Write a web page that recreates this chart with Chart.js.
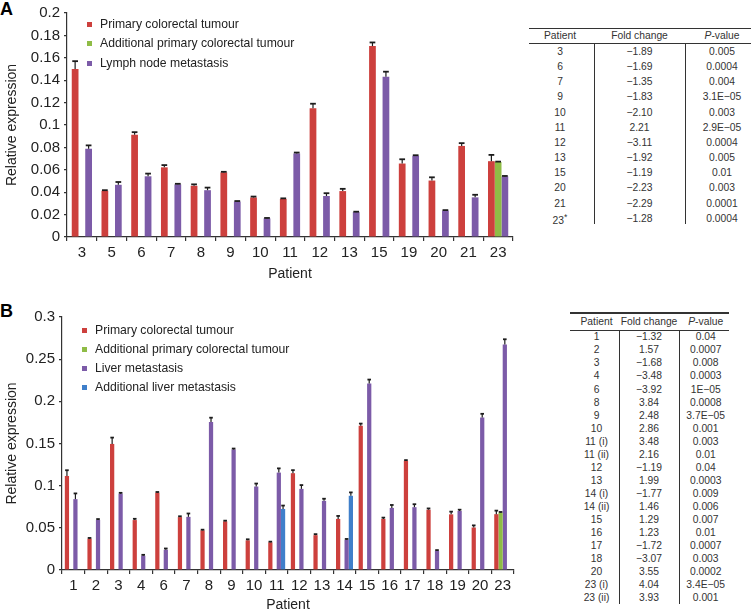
<!DOCTYPE html>
<html><head><meta charset="utf-8">
<script src="https://cdn.jsdelivr.net/npm/chart.js@4.4.0/dist/chart.umd.min.js"></script>
<style>
html,body{margin:0;padding:0;background:#fff;width:751px;height:614px;overflow:hidden;position:relative;font-family:'Liberation Sans',Arial,sans-serif;color:#222}
canvas{position:absolute;left:0}
.panel{position:absolute;font-weight:bold;font-size:18px;color:#000;line-height:18px}
.leg{position:absolute;font-size:12.2px;color:#222;white-space:nowrap}
.leg .it{position:absolute;left:0;height:19px;line-height:19px;width:300px}
.leg .sw{position:absolute;width:5px;height:5px;top:7px;left:0}
.leg .tx{position:absolute;left:13px;top:0}
.tcell{position:absolute;transform:translate(-50%,-50%);font-size:10.3px;white-space:nowrap;color:#333;line-height:12px}
.hl{position:absolute;background:#333}
</style></head><body>
<div class="panel" style="left:0;top:0">A</div>
<div class="panel" style="left:0;top:302px">B</div>
<canvas id="cA" width="520" height="283" style="top:0"></canvas>
<canvas id="cB" width="520" height="324" style="top:290px"></canvas>
<div id="legA" class="leg"></div>
<div id="legB" class="leg"></div>
<div id="tabA"></div>
<div id="tabB"></div>
<script>
// ---------- Data: panel A ----------
const categoriesA = ['3','5','6','7','8','9','10','11','12','13','15','19','20','21','23'];
const primaryA     = [0.150,0.0413,0.0913,0.0622,0.0457,0.0577,0.0353,0.0340,0.1150,0.0410,0.1705,0.0656,0.0504,0.0813,0.0677];
const primaryErrA  = [0.0070,0.0005,0.0023,0.0020,0.0013,0.0005,0.0008,0.0005,0.0040,0.0020,0.0032,0.0038,0.0029,0.0025,0.0056];
const additionalA  = [null,null,null,null,null,null,null,null,null,null,null,null,null,null,0.0670];
const additionalErrA=[null,null,null,null,null,null,null,null,null,null,null,null,null,null,0.0003];
const lymphA       = [0.0788,0.0466,0.0542,0.0470,0.0418,0.0316,0.0166,0.0746,0.0366,0.0222,0.1431,0.0725,0.0235,0.0354,0.0541];
const lymphErrA    = [0.0030,0.0025,0.0024,0.0005,0.0023,0.0005,0.0004,0.0008,0.0025,0.0004,0.0045,0.0005,0.0005,0.0023,0.0004];
const yTicksA = {min:0, max:0.2, step:0.02};

// ---------- Data: panel B ----------
const categoriesB = ['1','2','3','4','6','7','8','9','10','11','12','13','14','15','16','17','18','19','20','23'];
const primaryB     = [0.1115,0.0372,0.1495,0.0592,0.0917,0.0627,0.0470,0.0577,0.0352,0.0328,0.1148,0.0413,0.0606,0.1709,0.0606,0.1295,0.0715,0.0660,0.0504,0.0662];
const primaryErrB  = [0.0068,0.0008,0.0075,0.0015,0.0008,0.0010,0.0008,0.0008,0.0012,0.0008,0.0036,0.0012,0.0035,0.0027,0.0015,0.0008,0.0015,0.0032,0.0025,0.0042];
const additionalB  = [null,null,null,null,null,null,null,null,null,null,null,null,null,null,null,null,null,null,null,0.0680];
const additionalErrB=[null,null,null,null,null,null,null,null,null,null,null,null,null,null,null,null,null,null,null,0.0008];
const liverB       = [0.0840,0.0594,0.0905,0.0170,0.0240,0.0630,0.1756,0.1430,0.0990,0.1155,0.0962,0.0820,0.0358,0.2210,0.0736,0.0745,0.0228,0.0700,0.1807,0.2673];
const liverErrB    = [0.0068,0.0010,0.0010,0.0010,0.0015,0.0040,0.0050,0.0010,0.0035,0.0050,0.0045,0.0025,0.0010,0.0048,0.0035,0.0035,0.0008,0.0015,0.0045,0.0063];
const addLiverB    = [null,null,null,null,null,null,null,null,null,0.0724,null,null,0.0880,null,null,null,null,null,null,null];
const addLiverErrB = [null,null,null,null,null,null,null,null,null,0.0040,null,null,0.0040,null,null,null,null,null,null,null];
const yTicksB = {min:0, max:0.3, step:0.05};

// ---------- Data: tables ----------
const tablePatientsA = ['3','6','7','9','10','11','12','13','15','20','21','23<sup>*</sup>'];
const tableFoldA     = ['−1.89','−1.69','−1.35','−1.83','−2.10','2.21','−3.11','−1.92','−1.19','−2.23','−2.29','−1.28'];
const tablePA        = ['0.005','0.0004','0.004','3.1E−05','0.003','2.9E−05','0.0004','0.005','0.01','0.003','0.0001','0.0004'];
const tablePatientsB = ['1','2','3','4','6','8','9','10','11 (i)','11 (ii)','12','13','14 (i)','14 (ii)','15','16','17','18','20','23 (i)','23 (ii)'];
const tableFoldB     = ['−1.32','1.57','−1.68','−3.48','−3.92','3.84','2.48','2.86','3.48','2.16','−1.19','1.99','−1.77','1.46','1.29','1.23','−1.72','−3.07','3.55','4.04','3.93'];
const tablePB        = ['0.04','0.0007','0.008','0.0003','1E−05','0.0008','3.7E−05','0.001','0.003','0.01','0.04','0.0003','0.009','0.006','0.007','0.01','0.0007','0.003','0.0002','3.4E−05','0.001'];
const tableHeaders   = ['Patient','Fold change','<i>P</i>-value'];

// ---------- Styling ----------
const RED='#cd403d', GREEN='#8fbc46', PURPLE='#7c5ba8', BLUE='#3f7fca';
const FONT="'Liberation Sans', Arial, sans-serif";

const errorBarPlugin = {
  id:'errbars',
  afterDatasetsDraw(chart){
    const ctx = chart.ctx, ys = chart.scales.y;
    chart.data.datasets.forEach((ds,i)=>{
      const meta = chart.getDatasetMeta(i);
      meta.data.forEach((el,j)=>{
        const v = ds.data[j], e = ds.errors ? ds.errors[j] : null;
        if (v==null || e==null) return;
        const yt = ys.getPixelForValue(v+e);
        const w = el.width*0.85;
        ctx.save();
        ctx.strokeStyle='#1c1c1c';
        ctx.lineWidth=1.2;
        ctx.beginPath();
        ctx.moveTo(el.x, el.y); ctx.lineTo(el.x, yt);
        ctx.stroke();
        ctx.lineWidth=1.8;
        ctx.beginPath();
        ctx.moveTo(el.x-w/2, yt); ctx.lineTo(el.x+w/2, yt);
        ctx.stroke();
        ctx.restore();
      });
    });
  }
};

function fmt(v){ return String(Number(v.toFixed(3))); }

function makeChart(id, labels, datasets, yt, geo){
  return new Chart(document.getElementById(id), {
    type:'bar',
    data:{labels, datasets},
    plugins:[errorBarPlugin],
    options:{
      responsive:false, animation:false, devicePixelRatio:1,
      layout:{padding:{left:0,right:geo.right,top:geo.top,bottom:0}},
      plugins:{legend:{display:false}, tooltip:{enabled:false}},
      datasets:{bar:{categoryPercentage:geo.cp, barPercentage:1, borderWidth:0}},
      scales:{
        x:{
          grid:{display:true, drawOnChartArea:false, drawTicks:true, tickLength:4, color:'#333', lineWidth:1.2, offset:true},
          border:{display:true, color:'#333', width:1.2},
          ticks:{font:{size:15,family:FONT}, color:'#222', padding:geo.xpad, maxRotation:0, autoSkip:false},
          title:{display:true, text:'Patient', font:{size:14,family:FONT}, color:'#222', padding:{top:geo.tpad,bottom:0}},
          afterFit(s){ s.height = geo.xh; }
        },
        y:{
          min:yt.min, max:yt.max,
          grid:{display:true, drawOnChartArea:false, drawTicks:true, tickLength:3, color:'#333', lineWidth:1.2},
          border:{display:true, color:'#333', width:1.2},
          ticks:{stepSize:yt.step, font:{size:15,family:FONT}, color:'#222', padding:4, callback:v=>fmt(v)},
          title:{display:true, text:'Relative expression', font:{size:14,family:FONT}, color:'#222', padding:{top:4,bottom:0}},
          afterFit(s){ s.width = geo.yw; }
        }
      }
    }
  });
}

const chartA = makeChart('cA', categoriesA, [
  {label:'Primary colorectal tumour', data:primaryA, errors:primaryErrA, backgroundColor:RED},
  {label:'Additional primary colorectal tumour', data:additionalA, errors:additionalErrA, backgroundColor:GREEN},
  {label:'Lymph node metastasis', data:lymphA, errors:lymphErrA, backgroundColor:PURPLE}
], yTicksA, {right:7, top:10, yw:67, xh:46, cp:0.68, xpad:3, tpad:2});

const chartB = makeChart('cB', categoriesB, [
  {label:'Primary colorectal tumour', data:primaryB, errors:primaryErrB, backgroundColor:RED},
  {label:'Additional primary colorectal tumour', data:additionalB, errors:additionalErrB, backgroundColor:GREEN},
  {label:'Liver metastasis', data:liverB, errors:liverErrB, backgroundColor:PURPLE},
  {label:'Additional liver metastasis', data:addLiverB, errors:addLiverErrB, backgroundColor:BLUE}
], yTicksB, {right:6, top:27, yw:62, xh:44, cp:0.75, xpad:3, tpad:0});

// ---------- HTML legends built from the chart datasets ----------
function buildLegend(el, chart, left, top, step){
  el.style.left = left+'px'; el.style.top = top+'px';
  chart.data.datasets.forEach((ds,i)=>{
    const it = document.createElement('div'); it.className='it'; it.style.top=(i*step)+'px';
    const sw = document.createElement('div'); sw.className='sw'; sw.style.background=ds.backgroundColor;
    const tx = document.createElement('span'); tx.className='tx'; tx.textContent=ds.label;
    it.appendChild(sw); it.appendChild(tx); el.appendChild(it);
  });
}
buildLegend(document.getElementById('legA'), chartA, 87, 14.5, 19.5);
buildLegend(document.getElementById('legB'), chartB, 82, 320.5, 19.3);

// ---------- Tables ----------
function buildTable(el, g, cols){
  const add=(cls,style,html)=>{const d=document.createElement('div');d.className=cls;Object.assign(d.style,style);if(html!=null)d.innerHTML=html;el.appendChild(d);};
  const n = cols[0].length;
  add('hl',{left:g.x0+'px',top:g.top+'px',width:(g.xr-g.x0)+'px',height:'1.6px'});
  add('hl',{left:g.x0+'px',top:g.hr+'px',width:(g.xr-g.x0)+'px',height:'1.4px'});
  g.vl.forEach(x=>add('hl',{left:x+'px',top:g.hr+'px',width:'1.1px',height:(g.vend-g.hr)+'px'}));
  tableHeaders.forEach((h,c)=>add('tcell',{left:g.cx[c]+'px',top:g.hy+'px',fontSize:g.fs+'px'},h));
  for(let r=0;r<n;r++){
    cols.forEach((col,c)=>add('tcell',{left:g.cx[c]+'px',top:(g.r0+r*g.rh)+'px',fontSize:g.fs+'px'},col[r]));
  }
}
buildTable(document.getElementById('tabA'),
  {x0:529,xr:751,top:27.5,hr:42.5,hy:36,vl:[594,685],vend:224,cx:[560,639.5,722],r0:52,rh:15.15,fs:10.3},
  [tablePatientsA, tableFoldA, tablePA]);
buildTable(document.getElementById('tabB'),
  {x0:570,xr:729,top:312,hr:330,hy:322,vl:[619,679],vend:604,cx:[596.5,649,705.7],r0:337.3,rh:13.05,fs:10.3},
  [tablePatientsB, tableFoldB, tablePB]);
</script>
</body></html>
